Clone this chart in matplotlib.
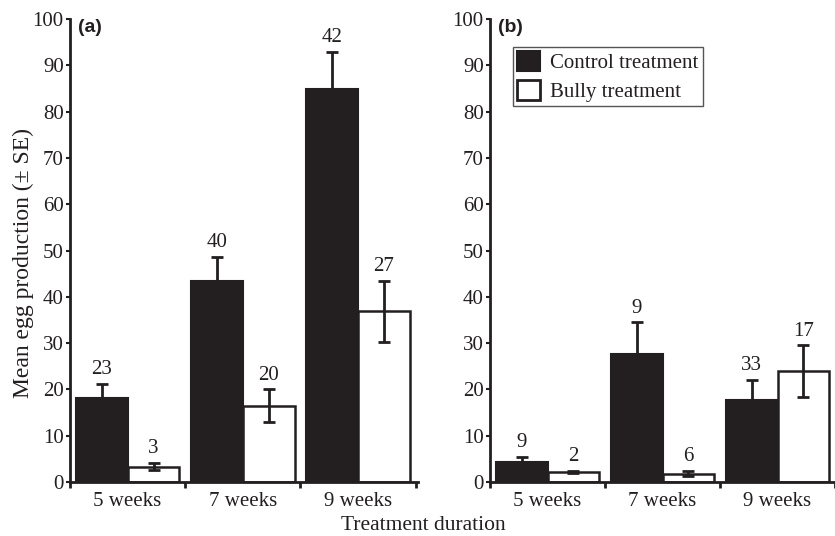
import matplotlib
matplotlib.use('Agg')
import matplotlib.pyplot as plt
from matplotlib.patches import Patch
import numpy as np

plt.rcParams['font.family'] = ['Liberation Serif', 'DejaVu Serif']

durations = ['5 weeks', '7 weeks', '9 weeks']

# panel (a)
control_a = [18.1, 43.5, 84.8]
control_a_se = [3.1, 5.2, 8.1]
control_a_n = [23, 40, 42]
bully_a = [3.3, 16.5, 36.9]
bully_a_se = [0.8, 3.5, 6.6]
bully_a_n = [3, 20, 27]

# panel (b)
control_b = [4.3, 27.7, 17.7]
control_b_se = [1.1, 6.8, 4.4]
control_b_n = [9, 9, 33]
bully_b = [2.2, 1.8, 23.9]
bully_b_se = [0.2, 0.6, 5.6]
bully_b_n = [2, 6, 17]

dark = '#231f20'
fs = 15
W, H = 835, 536
fig = plt.figure(figsize=(W / 100, H / 100), dpi=100)

ax_a = fig.add_axes([70 / W, 1 - 482 / H, 348 / W, 463 / H])
ax_b = fig.add_axes([490 / W, 1 - 482 / H, 345 / W, 463 / H])

width = 0.45


def draw_panel(ax, ctl, ctl_se, ctl_n, bul, bul_se, bul_n, xmax):
    x = np.arange(len(durations))
    ax.bar(x - width / 2, ctl, width, color=dark, edgecolor=dark, linewidth=1.5, zorder=2)
    ax.bar(x + width / 2, bul, width, color='white', edgecolor=dark, linewidth=1.8, zorder=2)
    ax.errorbar(x - width / 2, ctl, yerr=ctl_se, fmt='none', ecolor=dark,
                elinewidth=2, capsize=4, capthick=2, zorder=3)
    ax.errorbar(x + width / 2, bul, yerr=bul_se, fmt='none', ecolor=dark,
                elinewidth=2, capsize=4, capthick=2, zorder=3)
    for xi, v, se, n in zip(x - width / 2, ctl, ctl_se, ctl_n):
        ax.annotate(str(n), (xi, v + se), xytext=(0, 7), textcoords='offset points',
                    ha='center', va='baseline', fontsize=fs, color=dark)
    for xi, v, se, n in zip(x + width / 2, bul, bul_se, bul_n):
        ax.annotate(str(n), (xi, v + se), xytext=(0, 7), textcoords='offset points',
                    ha='center', va='baseline', fontsize=fs, color=dark)

    ax.set_xlim(-0.5, xmax)
    ax.set_ylim(0, 100)
    ax.set_yticks(np.arange(0, 101, 10))
    ax.set_xticks(x)
    ax.set_xticklabels(durations)
    ax.set_xticks(np.arange(-0.5, 2.6, 1.0), minor=True)
    ax.tick_params(axis='x', which='major', length=0, pad=7, labelsize=fs, colors=dark)
    ax.tick_params(axis='x', which='minor', length=4, width=2, direction='out', color=dark)
    ax.tick_params(axis='y', length=3, width=1.5, pad=1.5, labelsize=fs, colors=dark)
    for side in ['top', 'right']:
        ax.spines[side].set_visible(False)
    for side in ['left', 'bottom']:
        ax.spines[side].set_linewidth(2)
        ax.spines[side].set_color(dark)
    ax.patch.set_alpha(0)


draw_panel(ax_a, control_a, control_a_se, control_a_n, bully_a, bully_a_se, bully_a_n, 2.52)
draw_panel(ax_b, control_b, control_b_se, control_b_n, bully_b, bully_b_se, bully_b_n, 2.5)

fig.text(78 / W, 1 - 19 / H, '(a)', family='Liberation Sans', weight='bold',
         fontsize=14, va='top', ha='left', color=dark)
fig.text(498 / W, 1 - 19 / H, '(b)', family='Liberation Sans', weight='bold',
         fontsize=14, va='top', ha='left', color=dark)

fig.text(23 / W, 1 - 263 / H, 'Mean egg production (\u00b1 SE)', rotation=90,
         ha='center', va='center', fontsize=17, color=dark)
fig.text(423 / W, 1 - 530 / H, 'Treatment duration', ha='center', va='baseline',
         fontsize=15.5, color=dark)

handles = [Patch(facecolor=dark, edgecolor=dark, linewidth=1.5, label='Control treatment'),
           Patch(facecolor='white', edgecolor=dark, linewidth=2, label='Bully treatment')]
leg = fig.legend(handles=handles, loc='upper left', bbox_to_anchor=(513 / W, 1 - 47 / H),
                 fontsize=fs, frameon=True, fancybox=False, framealpha=1,
                 edgecolor='#555555', handlelength=1.1, handleheight=1.1,
                 handletextpad=0.5, borderpad=0.2, labelspacing=0.3, borderaxespad=0)
leg.get_frame().set_linewidth(1)
for t in leg.get_texts():
    t.set_color(dark)

fig.savefig('out.png', dpi=100)
